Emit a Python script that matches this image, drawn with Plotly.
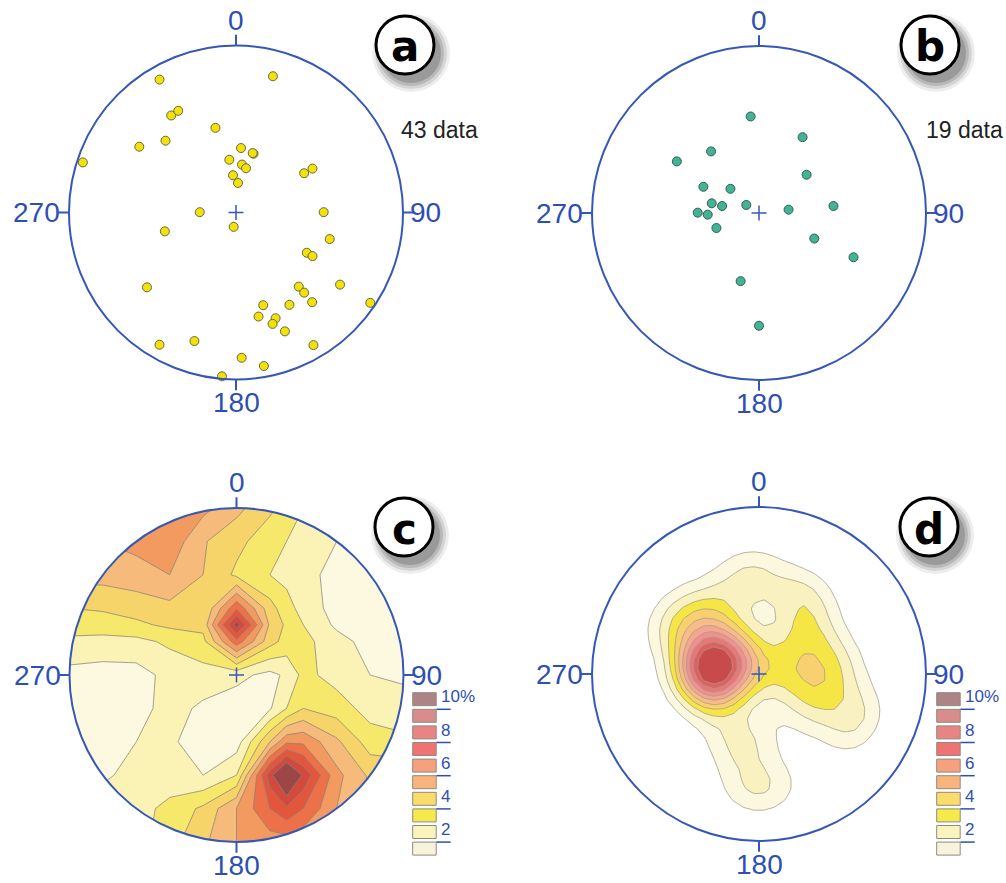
import numpy as np
import plotly.graph_objects as go

# ---------------- pole data (equal-area net, east/north, net radius = 1) ----------------
a_east = [-0.458, 0.221, -0.388, -0.346, -0.123, -0.579, -0.422, -0.917, 0.030, 0.105, 0.100,
          -0.040, 0.036, 0.060, -0.018, 0.012, 0.408, 0.458, -0.217, -0.014, -0.426, 0.525,
          0.561, 0.424, 0.458, -0.533, 0.623, 0.376, 0.408, 0.456, 0.804, 0.163, 0.320,
          0.135, 0.237, 0.219, 0.293, -0.458, -0.249, 0.464, 0.034, 0.167, -0.084]
a_north = [0.796, 0.816, 0.581, 0.609, 0.507, 0.394, 0.430, 0.300, 0.386, 0.352, 0.356,
           0.316, 0.287, 0.265, 0.223, 0.177, 0.235, 0.263, 0.002, -0.086, -0.113, 0.002,
           -0.159, -0.241, -0.261, -0.448, -0.432, -0.444, -0.480, -0.537, -0.541, -0.555, -0.553,
           -0.623, -0.633, -0.667, -0.712, -0.792, -0.770, -0.794, -0.870, -0.919, -0.981]

b_east = [-0.050, 0.261, -0.287, -0.492, 0.285, -0.333, -0.171, -0.283, -0.221, -0.076,
          -0.367, -0.307, -0.255, 0.177, 0.446, 0.331, 0.566, -0.110, 0.000]
b_north = [0.578, 0.454, 0.369, 0.309, 0.229, 0.157, 0.145, 0.058, 0.042, 0.048,
           0.002, -0.010, -0.090, 0.020, 0.042, -0.153, -0.265, -0.408, -0.675]

# ---------------- density grid of plot c (%), net coordinates ----------------
c_grid_x = [-1.2, -1.0, -0.8, -0.6, -0.4, -0.2, 0.0, 0.2, 0.3, 0.4, 0.6, 0.8, 1.0, 1.2]
c_grid_y = [1.2, 1.0, 0.8, 0.6, 0.4, 0.3, 0.2, 0.0, -0.2, -0.4, -0.6, -0.8, -1.0, -1.2]
c_density = [
    [6.0, 6.0, 6.2, 6.4, 6.6, 6.3, 5.3, 4.2, 3.6, 3.0, 2.3, 1.6, 1.5, 1.5],
    [6.0, 6.0, 6.2, 6.4, 6.6, 6.3, 5.3, 4.2, 3.6, 3.0, 2.3, 1.6, 1.5, 1.5],
    [5.8, 5.8, 6.0, 6.3, 6.7, 5.1, 4.3, 3.4, 3.0, 2.6, 2.0, 1.6, 1.5, 1.5],
    [5.4, 5.4, 5.4, 5.6, 6.0, 5.0, 3.8, 3.0, 2.7, 2.4, 1.6, 1.5, 1.5, 1.5],
    [4.0, 4.0, 4.1, 4.4, 4.7, 4.0, 7.8, 4.4, 3.4, 2.6, 1.6, 1.4, 1.4, 1.4],
    [3.6, 3.6, 3.6, 3.8, 4.2, 4.3, 10.5, 4.8, 3.8, 3.0, 1.8, 1.5, 1.4, 1.4],
    [2.7, 2.7, 2.6, 2.7, 3.2, 3.7, 7.6, 4.4, 3.6, 3.3, 2.4, 1.6, 1.5, 1.5],
    [1.7, 1.7, 1.6, 1.6, 2.3, 2.6, 2.3, 1.7, 2.2, 3.3, 2.6, 2.0, 1.8, 1.8],
    [1.6, 1.6, 1.5, 1.6, 2.4, 1.8, 1.4, 1.9, 3.0, 4.0, 3.5, 2.6, 2.5, 2.5],
    [1.6, 1.6, 1.6, 2.0, 2.2, 1.4, 1.5, 5.0, 6.8, 6.8, 5.2, 3.5, 3.2, 3.2],
    [1.8, 1.8, 1.8, 2.4, 2.4, 2.0, 3.0, 9.6, 12.0, 9.8, 6.3, 4.8, 4.8, 4.8],
    [2.6, 2.6, 2.6, 2.6, 3.3, 4.2, 6.0, 8.0, 8.8, 8.0, 6.0, 5.5, 5.5, 5.5],
    [2.6, 2.6, 2.6, 2.6, 3.6, 4.8, 6.0, 6.5, 6.5, 6.2, 5.5, 5.5, 5.5, 5.5],
    [2.6, 2.6, 2.6, 2.6, 3.6, 4.8, 6.0, 6.5, 6.5, 6.2, 5.5, 5.5, 5.5, 5.5],
]

direction_labels = ["0", "90", "180", "270"]
legend_levels = [10, 9, 8, 7, 6, 5, 4, 3, 2, 1]          # top to bottom
legend_text = {10: "10%", 8: "8", 6: "6", 4: "4", 2: "2"}

# band colours, lowest band (1-2 %) first, highest (>=10 %) last
c_colors = ["#fdf9e1", "#fbf3b6", "#f6e86a", "#f7d46a", "#f6bb7a",
            "#f29a60", "#ec7048", "#e4563c", "#d3493c", "#9c4646"]
d_colors = ["#fbf8df", "#f9f2c0", "#f6e645", "#f8d070", "#f8bc88",
            "#f5a690", "#f09090", "#e87878", "#de6060", "#c84a4a"]
legend_colors = ["#ad8486", "#d98c8c", "#e88484", "#f07272", "#f6a07e",
                 "#f8b47c", "#f9dc6a", "#f5ea4c", "#f8f4bc", "#f8f4dc"]

# smoothing settings of the density of plot b
D_SIGMA, D_PER_POLE = 11.0, 2.1

# ---------------- geometry ----------------
W, H = 1006, 883
R = 167.0                # net radius in px
HALF = 205.0             # half size of each panel box in px
centers = {"a": (236.0, 212.5), "b": (759.0, 213.0), "c": (236.5, 675.0), "d": (759.0, 674.0)}
axis_id = {"a": "", "b": "2", "c": "3", "d": "4"}
NET_BLUE = "#3557b7"
LABEL_BLUE = "#2d4fb3"


def px(x):
    return x / W


def py(y):
    return 1.0 - y / H


def net_to_axes(east, north):
    """Lower-hemisphere equal-area coordinates -> unit axial vectors."""
    east = np.asarray(east, float)
    north = np.asarray(north, float)
    rho = np.clip(np.hypot(east, north), 0.0, np.sqrt(2.0))
    phi = 2.0 * np.arcsin(rho / np.sqrt(2.0))
    az = np.arctan2(east, north)
    s = np.sin(phi)
    return np.stack([s * np.sin(az), s * np.cos(az), np.cos(phi)], axis=-1)


def density(east, north, sigma_deg, per_pole, grid):
    """Fisher-kernel weighted pole count of axial data on a net grid."""
    P = net_to_axes(east, north)
    k = 1.0 / np.radians(sigma_deg) ** 2
    gx, gy = np.meshgrid(grid, grid)
    G = net_to_axes(gx, gy)
    w = np.exp(k * (np.abs(G @ P.T) - 1.0))
    return per_pole * w.sum(axis=-1)


def step_scale(colors):
    cols = ["#ffffff"] + list(colors)
    n = len(cols)
    scale = []
    for i, c in enumerate(cols):
        scale.append([i / n, c])
        scale.append([(i + 1) / n, c])
    return scale


fig = go.Figure()
shapes = []
annotations = []

layout_axes = {}
span = HALF / R
for key, (cx, cy) in centers.items():
    sid = axis_id[key]
    layout_axes["xaxis" + sid] = dict(domain=[px(cx - HALF), px(cx + HALF)], range=[-span, span],
                                      visible=False, fixedrange=True)
    layout_axes["yaxis" + sid] = dict(domain=[py(cy + HALF), py(cy - HALF)], range=[-span, span],
                                      visible=False, fixedrange=True)

# ---------------- contoured densities (c, d) ----------------
grid_d = np.linspace(-1.05, 1.05, 36)
dens_d = density(b_east, b_north, D_SIGMA, D_PER_POLE, grid_d)

contour_sets = [
    ("c", c_grid_x, c_grid_y[::-1], np.array(c_density)[::-1], c_colors, "#8a8478", 0.0),
    ("d", grid_d, grid_d, dens_d, d_colors, "#a39d8a", 0.4),
]
for key, gx, gy, z, cols, lc, sm in contour_sets:
    sid = axis_id[key]
    fig.add_trace(go.Contour(
        x=gx, y=gy, z=z, xaxis="x" + sid, yaxis="y" + sid,
        autocontour=False, contours=dict(start=1, end=10, size=1, coloring="fill"),
        colorscale=step_scale(cols), showscale=False,
        line=dict(color=lc, width=0.8, smoothing=sm), hoverinfo="skip"))

# ---------------- scatter of poles (a, b) ----------------
fig.add_trace(go.Scatter(x=a_east, y=a_north, xaxis="x", yaxis="y", mode="markers",
                         marker=dict(size=9, color="#f2e205", line=dict(color="#6a6748", width=1)),
                         hoverinfo="skip"))
fig.add_trace(go.Scatter(x=b_east, y=b_north, xaxis="x2", yaxis="y2", mode="markers",
                         marker=dict(size=9, color="#3fb595", line=dict(color="#3b5a52", width=1)),
                         hoverinfo="skip"))

# white ring hiding the density grid outside the primitive circle
t = np.linspace(0, 2 * np.pi, 240, endpoint=False)
o = 1.3
ring = (f"M{-o},{-o} L{o},{-o} L{o},{o} L{-o},{o} Z "
        + "M" + " L".join(f"{np.cos(a):.5f},{-np.sin(a):.5f}" for a in t) + " Z")
for key in ["c", "d"]:
    sid = axis_id[key]
    shapes.append(dict(type="path", path=ring, xref="x" + sid, yref="y" + sid, layer="above",
                       fillcolor="white", line=dict(width=0)))

# ---------------- net frame: circle, ticks, centre cross, labels ----------------
for key in centers:
    sid = axis_id[key]
    xr, yr = "x" + sid, "y" + sid
    shapes.append(dict(type="circle", xref=xr, yref=yr, x0=-1, x1=1, y0=-1, y1=1,
                       line=dict(color=NET_BLUE, width=2), layer="above"))
    for (x0, y0, x1, y1) in [(0, 1, 0, 1.065), (1, 0, 1.065, 0), (0, -1, 0, -1.065), (-1, 0, -1.065, 0)]:
        shapes.append(dict(type="line", xref=xr, yref=yr, x0=x0, y0=y0, x1=x1, y1=y1,
                           line=dict(color=NET_BLUE, width=2), layer="above"))
    cr = 0.045
    shapes.append(dict(type="line", xref=xr, yref=yr, x0=-cr, x1=cr, y0=0, y1=0,
                       line=dict(color=NET_BLUE, width=1.5), layer="above"))
    shapes.append(dict(type="line", xref=xr, yref=yr, x0=0, x1=0, y0=-cr, y1=cr,
                       line=dict(color=NET_BLUE, width=1.5), layer="above"))
    lf = dict(family="Liberation Sans, Arial, sans-serif", size=28, color=LABEL_BLUE)
    annotations += [
        dict(x=0, y=1.045, xref=xr, yref=yr, text=direction_labels[0], showarrow=False,
             xanchor="center", yanchor="bottom", font=lf),
        dict(x=1.03, y=0, xref=xr, yref=yr, text=direction_labels[1], showarrow=False,
             xanchor="left", yanchor="middle", font=lf),
        dict(x=0, y=-1.035, xref=xr, yref=yr, text=direction_labels[2], showarrow=False,
             xanchor="center", yanchor="top", font=lf),
        dict(x=-1.04, y=0, xref=xr, yref=yr, text=direction_labels[3], showarrow=False,
             xanchor="right", yanchor="middle", font=lf),
    ]

# ---------------- panel badges ----------------
badges = {"a": (405, 45), "b": (930, 45), "c": (404, 527), "d": (929, 527)}
BR = 29
for letter, (bx, by) in badges.items():
    for extra, alpha in [(10, 0.07), (7, 0.10), (4, 0.13), (1, 0.16)]:
        r = BR + extra
        sx, sy = bx + 6, by + 8
        shapes.append(dict(type="circle", xref="paper", yref="paper",
                           x0=px(sx - r), x1=px(sx + r), y0=py(sy + r), y1=py(sy - r),
                           fillcolor=f"rgba(0,0,0,{alpha})", line=dict(width=0), layer="above"))
    shapes.append(dict(type="circle", xref="paper", yref="paper",
                       x0=px(bx - BR), x1=px(bx + BR), y0=py(by + BR), y1=py(by - BR),
                       fillcolor="white", line=dict(color="black", width=3), layer="above"))
    annotations.append(dict(x=px(bx), y=py(by + 2), xref="paper", yref="paper", text=f"<b>{letter}</b>",
                            showarrow=False, xanchor="center", yanchor="middle",
                            font=dict(family="DejaVu Sans, sans-serif", size=42, color="black")))

# data counts
for txt, x in [(f"{len(a_east)} data", 399), (f"{len(b_east)} data", 924)]:
    annotations.append(dict(x=px(x), y=py(130), xref="paper", yref="paper", text=txt, showarrow=False,
                            xanchor="left", yanchor="middle",
                            font=dict(family="Liberation Sans, Arial, sans-serif", size=23, color="#222222")))

# ---------------- density legends ----------------
for left in [412.7, 936.7]:
    for i, (lev, col) in enumerate(zip(legend_levels, legend_colors)):
        top = 692.7 + 16.6 * i
        shapes.append(dict(type="rect", xref="paper", yref="paper",
                           x0=px(left), x1=px(left + 23.5), y0=py(top + 13), y1=py(top),
                           fillcolor=col, line=dict(color="#8f8a80", width=1), layer="above"))
        if lev in legend_text:
            ly = top + 16.6
            shapes.append(dict(type="line", xref="paper", yref="paper",
                               x0=px(left + 23.5), x1=px(left + 38), y0=py(ly), y1=py(ly),
                               line=dict(color=LABEL_BLUE, width=1.5), layer="above"))
            annotations.append(dict(x=px(left + 26), y=py(ly - 1), xref="paper", yref="paper",
                                    text=legend_text[lev], showarrow=False, xanchor="left", yanchor="bottom",
                                    font=dict(family="Liberation Sans, Arial, sans-serif", size=17,
                                              color=LABEL_BLUE)))

fig.update_layout(width=W, height=H, margin=dict(l=0, r=0, t=0, b=0),
                  paper_bgcolor="white", plot_bgcolor="rgba(0,0,0,0)", showlegend=False,
                  shapes=shapes, annotations=annotations, **layout_axes)

fig.write_html("out.html")
